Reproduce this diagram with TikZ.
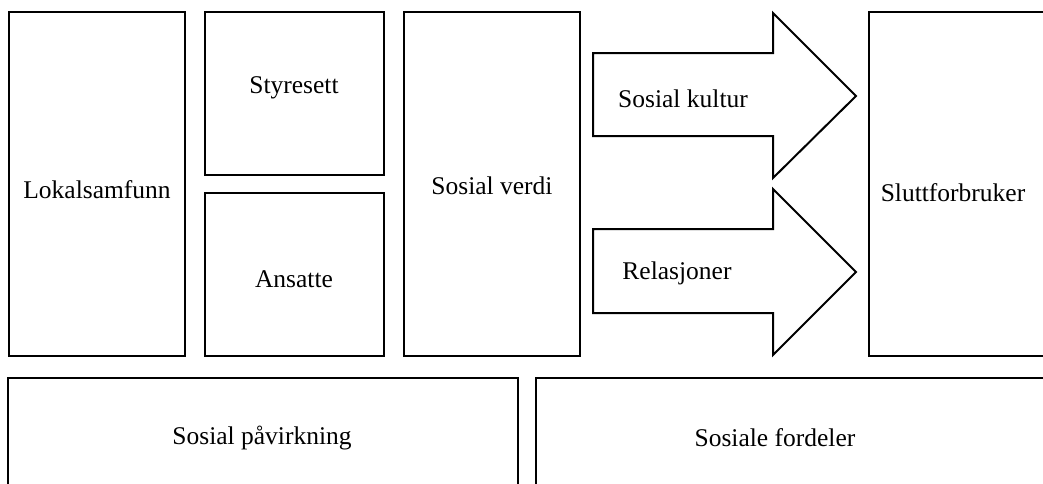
\documentclass[tikz,border=0pt]{standalone}
\usepackage{fontspec}
\setmainfont{Liberation Serif}
\begin{document}
\begin{tikzpicture}[x=1pt,y=-1pt,
  box/.style={draw=black,line width=2pt,fill=white},
  lbl/.style={font=\fontsize{25.5}{30}\selectfont,inner sep=0pt,anchor=center},
  arr/.style={draw=black,line width=2pt,line join=miter,fill=white}]
\fill[white] (0,0) rectangle (1043,483);
\clip (0,0) rectangle (1043,483);
% top row boxes
\draw[box] (9,12) rectangle (185,356);
\draw[box] (205,12) rectangle (384,175);
\draw[box] (205,193) rectangle (384,356);
\draw[box] (404,12) rectangle (580,356);
\draw[box] (869,12) rectangle (1060,356);
% bottom boxes
\draw[box] (8,378) rectangle (518,500);
\draw[box] (536,378) rectangle (1060,500);
% arrows
\draw[arr] (593,53) -- (773,53) -- (773,13) -- (856,96) -- (773,178) -- (773,136) -- (593,136) -- cycle;
\draw[arr] (593,229) -- (773,229) -- (773,189) -- (856,272) -- (773,355) -- (773,313) -- (593,313) -- cycle;
% labels
\node[lbl] (lok) at (97,190) {Lokalsamfunn};
\node[lbl] (sty) at (294,88) {Styresett};
\node[lbl] (ans) at (294,279) {Ansatte};
\node[lbl] (ver) at (492,186) {Sosial verdi};
\node[lbl] (kul) at (683,99) {Sosial kultur};
\node[lbl] (rel) at (677,273) {Relasjoner};
\node[lbl] (slu) at (953,193) {Sluttforbruker};
\node[lbl] (pav) at (262,438) {Sosial påvirkning};
\node[lbl] (for) at (775,438) {Sosiale fordeler};
\end{tikzpicture}
\end{document}
